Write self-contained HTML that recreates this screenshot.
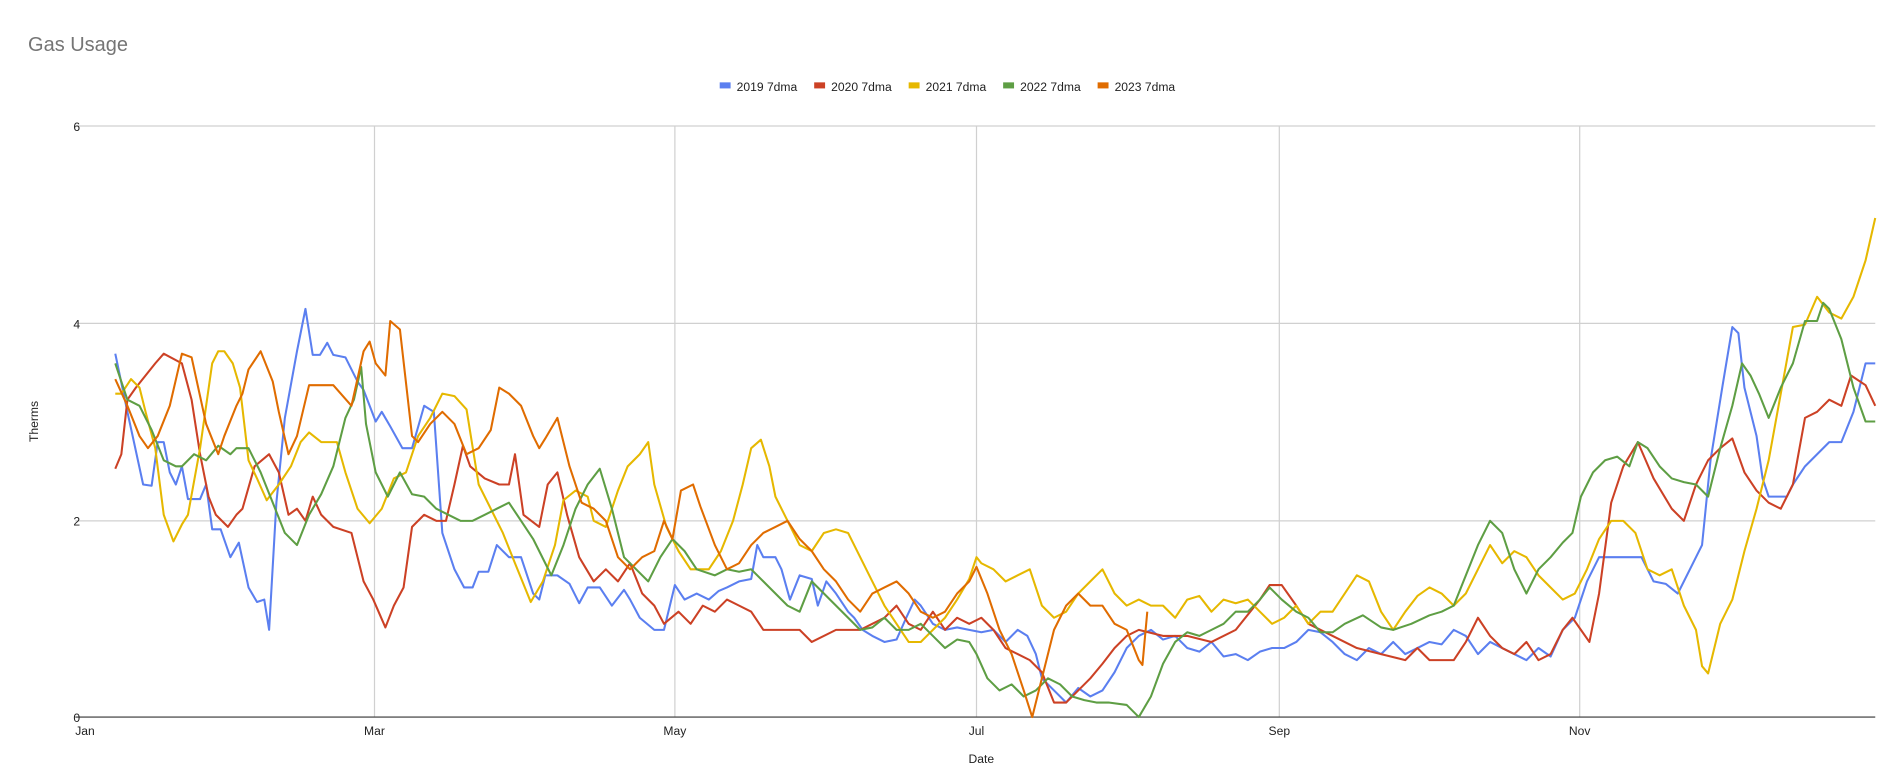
<!DOCTYPE html>
<html><head><meta charset="utf-8"><style>
html,body{margin:0;padding:0;background:#fff;}
svg{display:block;font-family:"Liberation Sans",Arial,sans-serif;}
</style></head><body>
<svg width="1890" height="774" viewBox="0 0 1560 639" xmlns="http://www.w3.org/2000/svg">
<rect width="1560" height="639" fill="#fff"/>
<text x="23" y="42" font-size="16.5" fill="#757575">Gas Usage</text>
<g font-size="10" fill="#222">
<rect x="594" y="68" width="9" height="5" fill="#5b7ff0"/><text x="608" y="75">2019 7dma</text>
<rect x="672" y="68" width="9" height="5" fill="#cc4125"/><text x="686" y="75">2020 7dma</text>
<rect x="750" y="68" width="9" height="5" fill="#e6b800"/><text x="764" y="75">2021 7dma</text>
<rect x="828" y="68" width="9" height="5" fill="#5e9e44"/><text x="842" y="75">2022 7dma</text>
<rect x="906" y="68" width="9" height="5" fill="#e06c00"/><text x="920" y="75">2023 7dma</text>
</g>
<g stroke="#d0d0d0" stroke-width="1">
<line x1="62" y1="104" x2="1548" y2="104"/><line x1="62" y1="267" x2="1548" y2="267"/><line x1="62" y1="430" x2="1548" y2="430"/>
<line x1="309" y1="104" x2="309" y2="592"/><line x1="557" y1="104" x2="557" y2="592"/><line x1="806" y1="104" x2="806" y2="592"/><line x1="1056" y1="104" x2="1056" y2="592"/><line x1="1304" y1="104" x2="1304" y2="592"/>
</g>
<line x1="62" y1="592" x2="1548" y2="592" stroke="#333" stroke-width="1"/>
<g font-size="10" fill="#222" text-anchor="end">
<text x="66" y="108">6</text><text x="66" y="271">4</text><text x="66" y="434">2</text><text x="66" y="596">0</text>
</g>
<g font-size="10" fill="#222" text-anchor="middle">
<text x="70" y="607">Jan</text><text x="309" y="607">Mar</text><text x="557" y="607">May</text><text x="806" y="607">Jul</text><text x="1056" y="607">Sep</text><text x="1304" y="607">Nov</text>
<text x="810" y="630">Date</text>
<text transform="translate(31,348) rotate(-90)">Therms</text>
</g>
<g fill="none" stroke-width="1.7" stroke-linejoin="round">
<polyline stroke="#5b7ff0" points="95,292 105,340 118,400 125,401 130,365 135,365 140,390 145,400 150,385 155,412 165,412 170,400 175,437 182,437 190,460 197,448 205,485 212,497 218,495 222,520 228,415 235,345 245,290 252,255 258,293 264,293 270,283 275,293 285,295 295,315 300,322 305,335 310,348 315,340 322,352 332,370 340,370 350,335 358,340 365,440 375,470 383,485 390,485 395,472 403,472 410,450 420,460 430,460 440,490 445,495 450,475 460,475 470,482 478,498 485,485 495,485 505,500 515,487 520,495 528,510 540,520 548,520 557,483 565,495 575,490 585,495 593,488 600,485 610,480 620,478 625,450 630,460 640,460 645,470 652,495 660,475 670,478 675,500 682,480 690,490 700,505 705,510 712,520 720,525 730,530 740,528 748,510 755,495 760,500 770,515 780,520 790,518 800,520 810,522 820,520 830,530 840,520 848,525 855,540 860,560 870,570 880,580 890,568 900,575 910,570 920,555 930,535 940,525 950,520 960,528 970,525 980,535 990,538 1000,530 1010,542 1020,540 1030,545 1040,538 1050,535 1060,535 1070,530 1080,520 1090,522 1100,530 1110,540 1120,545 1130,535 1140,540 1150,530 1160,540 1170,535 1180,530 1190,532 1200,520 1210,525 1220,540 1230,530 1240,535 1250,540 1260,545 1270,535 1280,542 1290,520 1300,510 1310,480 1320,460 1330,460 1355,460 1365,480 1375,482 1385,490 1395,470 1405,450 1412,380 1422,318 1430,270 1435,275 1440,320 1450,360 1455,395 1460,410 1475,410 1480,400 1490,385 1500,375 1510,365 1520,365 1530,340 1540,300 1548,300"/>
<polyline stroke="#cc4125" points="95,387 100,375 105,330 112,320 120,310 128,300 135,292 150,300 158,330 165,375 172,410 178,425 188,435 195,425 200,420 210,385 222,375 230,390 238,425 245,420 252,430 258,410 265,425 275,435 290,440 300,480 308,495 318,518 325,500 333,485 340,435 350,425 360,430 368,430 375,400 382,368 388,385 400,395 412,400 420,400 425,375 432,425 445,435 452,400 460,390 468,425 478,460 490,480 500,470 510,480 520,465 530,490 540,500 548,515 560,505 570,515 580,500 590,505 600,495 610,500 620,505 630,520 660,520 670,530 690,520 700,520 710,520 720,515 730,510 740,500 750,515 760,520 770,505 780,520 790,510 800,515 810,510 820,520 830,535 840,540 850,545 860,555 870,580 880,580 890,570 900,560 910,548 920,535 930,525 940,520 960,525 980,525 1000,530 1020,520 1040,495 1048,483 1058,483 1070,500 1080,515 1100,525 1120,535 1140,540 1160,545 1170,535 1180,545 1200,545 1210,530 1220,510 1230,525 1240,535 1250,540 1260,530 1270,545 1280,540 1290,520 1298,510 1305,520 1312,530 1320,490 1330,415 1340,385 1352,365 1365,395 1380,420 1390,430 1400,400 1410,380 1420,370 1430,362 1440,390 1450,405 1460,415 1470,420 1480,400 1490,345 1500,340 1510,330 1520,335 1528,310 1540,318 1548,335"/>
<polyline stroke="#e6b800" points="95,325 100,325 108,313 115,320 120,340 128,370 135,425 143,447 150,433 155,425 165,370 175,300 180,290 185,290 192,300 198,320 205,380 212,395 220,413 230,400 240,385 248,365 255,357 265,365 278,365 285,390 295,420 305,432 315,420 325,395 335,390 345,360 355,345 365,325 375,327 385,338 395,400 405,420 415,440 425,465 438,497 448,480 458,450 465,413 475,405 485,410 490,430 500,435 510,405 518,385 528,375 535,365 540,400 550,435 560,455 570,470 585,470 595,455 605,430 613,400 620,370 628,363 635,385 640,410 650,430 660,450 670,455 680,440 690,437 700,440 710,460 720,480 730,500 740,515 750,530 760,530 770,520 780,510 790,495 800,478 806,460 810,465 820,470 830,480 840,475 850,470 860,500 870,510 880,505 890,490 900,480 910,470 920,490 930,500 940,495 950,500 960,500 970,510 980,495 990,492 1000,505 1010,495 1020,498 1030,495 1040,505 1050,515 1060,510 1070,500 1080,515 1090,505 1100,505 1110,490 1120,475 1130,480 1140,505 1150,520 1160,505 1170,492 1180,485 1190,490 1200,500 1210,490 1220,470 1230,450 1240,465 1250,455 1260,460 1270,475 1280,485 1290,495 1300,490 1310,470 1320,445 1330,430 1340,430 1350,440 1360,470 1370,475 1380,470 1390,500 1400,520 1405,550 1410,556 1420,515 1430,495 1440,455 1450,420 1460,380 1470,325 1480,270 1490,268 1500,245 1510,258 1520,263 1530,245 1540,215 1548,180"/>
<polyline stroke="#5e9e44" points="95,300 105,330 115,335 125,355 135,380 145,385 150,385 160,375 170,380 180,368 190,375 195,370 205,370 215,390 225,415 235,440 245,450 255,425 265,408 275,385 285,345 292,330 298,303 302,350 310,390 320,410 330,390 340,408 350,410 360,420 370,425 380,430 390,430 400,425 410,420 420,415 430,430 440,445 455,475 465,450 475,420 485,400 495,387 505,420 515,460 525,470 535,480 545,460 555,445 565,455 575,470 590,475 600,470 610,472 620,470 630,480 640,490 650,500 660,505 670,480 680,490 690,500 700,510 710,520 720,518 730,510 740,520 750,520 760,515 770,525 780,535 790,528 800,530 806,540 815,560 825,570 835,565 845,575 855,570 865,560 875,565 885,575 895,578 905,580 915,580 930,582 940,592 950,575 960,548 970,530 980,522 990,525 1000,520 1010,515 1020,505 1030,505 1040,495 1048,485 1058,495 1070,505 1080,510 1090,522 1100,522 1110,515 1125,508 1140,518 1150,520 1165,515 1180,508 1190,505 1200,500 1210,475 1220,450 1230,430 1240,440 1250,470 1260,490 1270,470 1280,460 1290,448 1298,440 1305,410 1315,390 1325,380 1335,377 1345,385 1352,365 1360,370 1370,385 1380,395 1390,398 1400,400 1410,410 1420,370 1430,335 1438,300 1445,310 1452,325 1460,345 1470,320 1480,300 1490,265 1500,265 1505,250 1510,255 1520,280 1530,320 1540,348 1548,348"/>
<polyline stroke="#e06c00" points="95,313 105,335 115,360 122,370 130,360 140,335 150,292 158,295 170,350 180,375 185,360 195,335 200,325 205,305 215,290 225,315 230,340 238,375 245,360 255,318 265,318 275,318 290,335 300,290 305,282 310,300 318,310 322,265 330,272 340,360 345,365 355,350 365,340 375,350 385,375 395,370 405,355 412,320 420,325 430,335 440,360 445,370 450,362 460,345 470,385 480,415 490,420 500,430 510,460 520,470 530,460 540,455 548,430 555,445 562,405 572,400 578,418 590,450 600,470 610,465 620,450 630,440 640,435 650,430 660,445 670,455 680,470 690,480 700,495 710,505 720,490 730,485 740,480 750,490 760,505 770,510 780,505 790,490 800,480 806,468 815,490 825,520 835,540 845,570 852,592 860,560 870,520 880,500 890,490 900,500 910,500 920,515 930,520 940,545 943,549 947,505"/>
</g>
</svg>
</body></html>
